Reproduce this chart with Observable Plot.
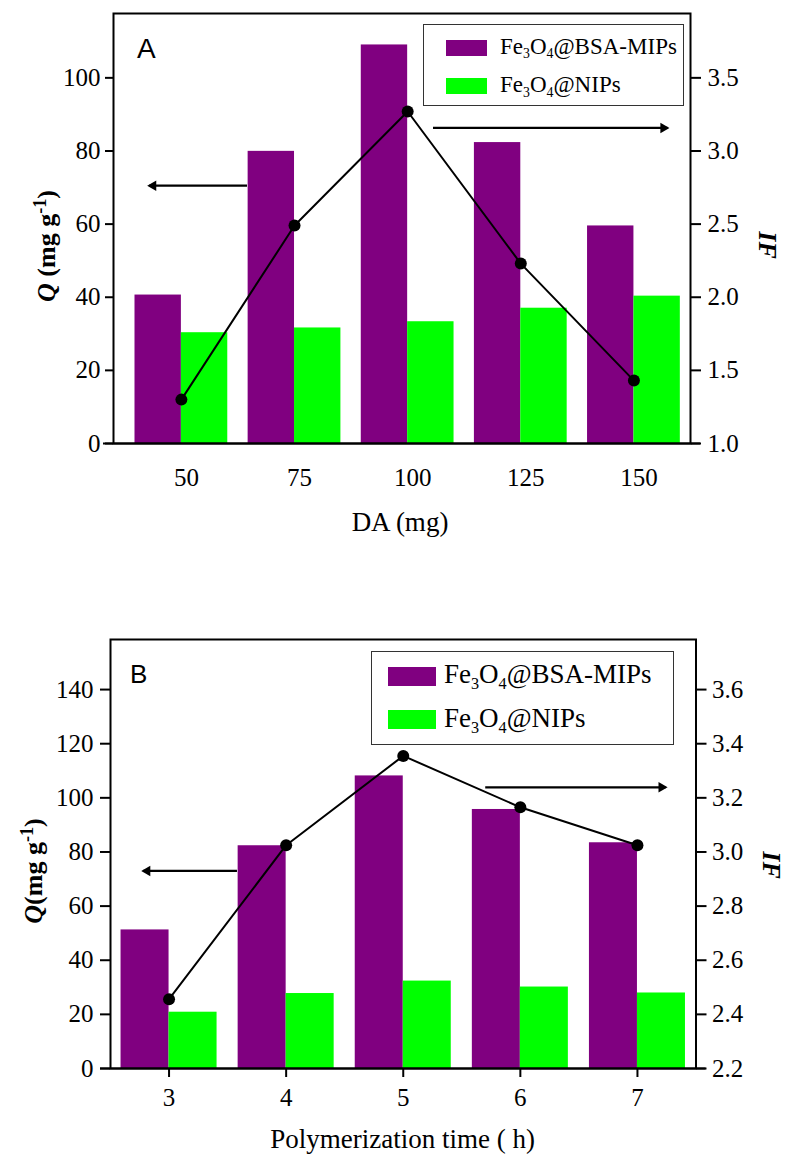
<!DOCTYPE html>
<html><head><meta charset="utf-8">
<script src="https://cdn.jsdelivr.net/npm/d3@7"></script>
<script src="https://cdn.jsdelivr.net/npm/@observablehq/plot@0.6"></script>
<style>
body{margin:0;background:#fff;}
#wrap{position:relative;width:787px;height:1156px;font-family:"Liberation Serif","Times New Roman",Tinos,serif;color:#000;overflow:hidden;}
#wrap svg text{font-family:"Liberation Serif","Times New Roman",Tinos,serif !important;}
.abs{position:absolute;white-space:nowrap;line-height:1;font-family:"Liberation Serif","Times New Roman",Tinos,serif;}
.sans{font-family:"Liberation Sans",Arial,sans-serif !important;}
.sub{font-size:0.6em;position:relative;top:0.32em;}
.sup{font-size:0.7em;position:relative;top:-0.5em;}
.legend{position:absolute;border:1.5px solid #333;box-sizing:border-box;}
.sw{position:absolute;}
.panelA svg, .panelB svg{overflow:visible;}
</style></head><body><div id="wrap"></div>
<script>
// ---------- Panel A data ----------
const daLevels = [50, 75, 100, 125, 150];
const qMipsA = [40.6, 79.9, 109.0, 82.3, 59.5];
const qNipsA = [30.3, 31.6, 33.3, 37.0, 40.3];
const ifA = [1.30, 2.49, 3.27, 2.23, 1.43];
const qTicksA = [0, 20, 40, 60, 80, 100];
const ifTicksA = [1.0, 1.5, 2.0, 2.5, 3.0, 3.5];
const arrowsA = [{x1: 64.5, x2: 42.9, q: 70.5}, {x1: 105.6, x2: 157.4, q: 86.3}];

// ---------- Panel B data ----------
const polyTimes = [3, 4, 5, 6, 7];
const qMipsB = [51.2, 82.3, 108.1, 95.7, 83.4];
const qNipsB = [20.8, 27.7, 32.3, 30.1, 27.9];
const ifB = [2.456, 3.025, 3.355, 3.165, 3.025];
const qTicksB = [0, 20, 40, 60, 80, 100, 120, 140];
const ifTicksB = [2.2, 2.4, 2.6, 2.8, 3.0, 3.2, 3.4, 3.6];
const arrowsB = [{x1: 3.58, x2: 2.78, q: 73.0}, {x1: 5.70, x2: 7.24, q: 103.9}];

const seriesNames = ["Fe<span class='sub'>3</span>O<span class='sub'>4</span>@BSA-MIPs", "Fe<span class='sub'>3</span>O<span class='sub'>4</span>@NIPs"];
const colors = ["#800080", "#00FF00"];
const serif = "Liberation Serif";

const wrap = document.getElementById("wrap");

function panel(o) {
  const rows = o.cats.map((c, i) => ({c, mips: o.mips[i], nips: o.nips[i], q: o.toQ(o.ifs[i])}));
  const arrows = o.arrows;
  const leftArrows = arrows.filter(d => d.x2 < d.x1);
  const rightArrows = arrows.filter(d => d.x2 > d.x1);
  const w = o.barW;
  return Plot.plot({
    width: 787, height: o.height,
    marginTop: o.mt, marginBottom: o.mb, marginLeft: o.ml, marginRight: o.mr,
    style: {fontFamily: serif, fontSize: "25px", color: "#000", background: "transparent"},
    x: {type: "linear", domain: o.xDomain},
    y: {domain: [0, o.yTop]},
    marks: [
      Plot.rect(rows, {x1: d => d.c - w, x2: "c", y1: 0, y2: "mips", fill: colors[0]}),
      Plot.rect(rows, {x1: "c", x2: d => d.c + w, y1: 0, y2: "nips", fill: colors[1]}),
      Plot.line(rows, {x: "c", y: "q", stroke: "#000", strokeWidth: 2}),
      Plot.dot(rows, {x: "c", y: "q", r: 6, fill: "#000"}),
      Plot.link(arrows, {x1: "x1", x2: "x2", y1: "q", y2: "q", stroke: "#000", strokeWidth: 2.2}),
      Plot.dot(leftArrows, {x: "x2", y: "q", symbol: "triangle2", r: 5, rotate: -90, dx: 4, fill: "#000"}),
      Plot.dot(rightArrows, {x: "x2", y: "q", symbol: "triangle2", r: 5, rotate: 90, dx: -4, fill: "#000"}),
      Plot.axisY(o.qTicks, {anchor: "left", tickSize: o.lt, tickPadding: o.lp, strokeWidth: 2, label: null, fontSize: 25, fontFamily: serif, tickFormat: d => String(d)}),
      Plot.axisY(o.ifTicks.map(o.toQ), {anchor: "right", tickSize: 10, tickPadding: o.rp, strokeWidth: 2, label: null, fontSize: 25, fontFamily: serif, tickFormat: q => o.fromQ(q).toFixed(1)}),
      Plot.axisX(o.cats, {anchor: "bottom", tickSize: o.bt, tickPadding: o.bp, dx: o.bdx, strokeWidth: 2, label: null, fontSize: 25, fontFamily: serif, tickFormat: d => String(d)}),
      Plot.frame({stroke: "#000", strokeWidth: 2}),
      Plot.ruleY([0], {stroke: "#000", strokeWidth: 2, insetLeft: -10, insetRight: -10})
    ]
  });
}

const plotA = panel({
  cats: daLevels, mips: qMipsA, nips: qNipsA, ifs: ifA,
  toQ: v => (v - 1) * 40, fromQ: q => q / 40 + 1,
  qTicks: qTicksA, ifTicks: ifTicksA, arrows: arrowsA,
  xDomain: [35, 162.5], yTop: 117.6, barW: 10.25,
  height: 545, mt: 13, mb: 102, ml: 113, mr: 97,
  lt: 8, lp: 5, rp: 7, bt: 0, bp: 25, bdx: 5
});
const plotB = panel({
  cats: polyTimes, mips: qMipsB, nips: qNipsB, ifs: ifB,
  toQ: v => (v - 2.2) * 100, fromQ: q => q / 100 + 2.2,
  qTicks: qTicksB, ifTicks: ifTicksB, arrows: arrowsB,
  xDomain: [2.5, 7.5], yTop: 158.5, barW: 0.41,
  height: 596, mt: 79, mb: 88, ml: 110, mr: 91.5,
  lt: 10, lp: 7, rp: 6, bt: 9, bp: 11, bdx: 0
});

function place(node, top, cls) {
  const d = document.createElement("div");
  d.className = cls;
  d.style.position = "absolute"; d.style.left = "0px"; d.style.top = top + "px";
  d.appendChild(node);
  wrap.appendChild(d);
}
place(plotA, 0, "panelA");
place(plotB, 560, "panelB");

function addText(html, css, extraClass) {
  const d = document.createElement("div");
  d.className = "abs" + (extraClass ? " " + extraClass : "");
  d.innerHTML = html;
  Object.assign(d.style, css);
  wrap.appendChild(d);
  return d;
}

// panel letters
addText("A", {left: "137px", top: "34.5px", fontSize: "28px"}, "sans");
addText("B", {left: "130px", top: "660.5px", fontSize: "26px"}, "sans");

// legends
function legend(box, sw, textLeft, fontSize, rowTops) {
  const lg = document.createElement("div");
  lg.className = "legend";
  Object.assign(lg.style, {left: box[0] + "px", top: box[1] + "px", width: box[2] + "px", height: box[3] + "px"});
  wrap.appendChild(lg);
  seriesNames.forEach((name, i) => {
    const s = document.createElement("div");
    s.className = "sw";
    Object.assign(s.style, {left: sw[0] + "px", top: sw[1][i] + "px", width: sw[2] + "px", height: sw[3] + "px", background: colors[i]});
    wrap.appendChild(s);
    addText(name, {left: textLeft + "px", top: rowTops[i] + "px", fontSize: fontSize + "px"});
  });
}
legend([423, 24, 261, 82], [446, [39.5, 78], 41, 16], 500, 23, [35, 73.4]);
legend([371, 651, 303, 94], [388, [666.5, 710], 48, 19], 444, 27, [661.4, 705.4]);

// axis titles
addText("<b><i>Q</i> (mg g<span class='sup'>-1</span>)</b>", {left: "47px", top: "246px", fontSize: "26px", transform: "translate(-50%,-50%) rotate(-90deg)"});
addText("<b><i>Q</i>(mg g<span class='sup'>-1</span>)</b>", {left: "34px", top: "871px", fontSize: "26px", transform: "translate(-50%,-50%) rotate(-90deg)"});
addText("<b><i>IF</i></b>", {left: "767px", top: "245px", fontSize: "26px", transform: "translate(-50%,-50%) rotate(90deg)"});
addText("<b><i>IF</i></b>", {left: "771px", top: "865px", fontSize: "26px", transform: "translate(-50%,-50%) rotate(90deg)"});
addText("DA (mg)", {left: "400px", top: "509.4px", fontSize: "27px", transform: "translateX(-50%)"});
addText("Polymerization time ( h)", {left: "402.7px", top: "1126px", fontSize: "27px", transform: "translateX(-50%)"});
</script>
</body></html>
